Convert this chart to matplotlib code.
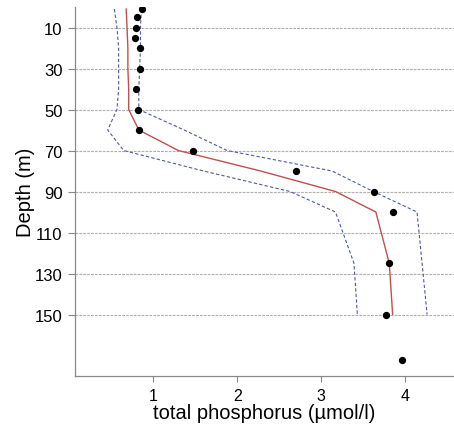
import matplotlib
matplotlib.use("Agg")
import matplotlib.pyplot as plt

plt.rcParams['font.family'] = ['Liberation Sans', 'DejaVu Sans']

# observed data
obs_depth = [1, 5, 10, 15, 20, 30, 40, 50, 60, 70, 80, 90, 100, 125, 150, 172]
obs_tp = [0.87, 0.81, 0.80, 0.79, 0.84, 0.85, 0.80, 0.82, 0.83, 1.48, 2.70, 3.63, 3.85, 3.81, 3.77, 3.96]

# model mean and envelope
line_depth = [1, 10, 20, 30, 40, 50, 60, 70, 80, 90, 100, 125, 150]
mean_tp = [0.68, 0.69, 0.70, 0.70, 0.71, 0.71, 0.83, 1.30, 2.28, 3.17, 3.65, 3.81, 3.85]
upper_tp = [0.86, 0.85, 0.85, 0.84, 0.83, 0.83, 1.37, 1.88, 3.13, 3.62, 4.14, 4.20, 4.26]
lower_tp = [0.54, 0.57, 0.59, 0.59, 0.59, 0.57, 0.46, 0.65, 1.60, 2.63, 3.17, 3.39, 3.43]

y_ticks = [10, 30, 50, 70, 90, 110, 130, 150]
x_ticks = [1, 2, 3, 4]

fig = plt.figure(figsize=(4.54, 4.35), dpi=100)
ax = fig.add_axes([0.165, 0.1333, 0.835, 0.8483])

for d in y_ticks:
    ax.axhline(d, color='#b0b0b0', lw=0.8, ls=(0, (2.5, 1)), zorder=0)

ax.plot(mean_tp, line_depth, color='#c0504d', lw=1.0, zorder=2)
ax.plot(upper_tp, line_depth, color='#4a5aa8', lw=0.8, ls=(0, (3, 2)), zorder=2)
ax.plot(lower_tp, line_depth, color='#4a5aa8', lw=0.8, ls=(0, (3, 2)), zorder=2)
ax.scatter(obs_tp, obs_depth, s=18, color='black', zorder=3)

ax.set_xlim(0.07, 4.58)
ax.set_ylim(180, 0)
ax.set_yticks(y_ticks)
ax.set_xticks(x_ticks)

for s in ['top', 'right']:
    ax.spines[s].set_visible(False)
for s in ['left', 'bottom']:
    ax.spines[s].set_color('#888888')
    ax.spines[s].set_linewidth(0.9)

ax.tick_params(axis='y', length=5, width=0.8, color='#888888', labelsize=12, pad=4)
ax.tick_params(axis='x', length=4, width=0.8, color='#888888', labelsize=11.5, pad=4.5)

ax.set_xlabel('total phosphorus (µmol/l)', fontsize=14.5, labelpad=0)
ax.set_ylabel('Depth (m)', fontsize=14.5, labelpad=0)

fig.savefig('out.png', dpi=100)
